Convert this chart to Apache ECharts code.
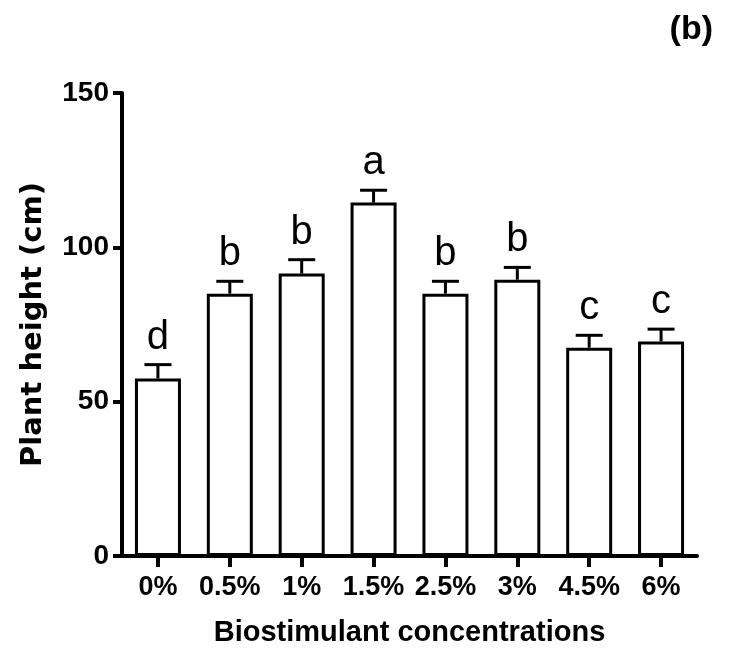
<!DOCTYPE html>
<html>
<head>
<meta charset="utf-8">
<script src="https://cdn.jsdelivr.net/npm/echarts@6/dist/echarts.min.js"></script>
<style>
html,body{margin:0;padding:0;background:#fff;}
#chart{width:730px;height:653px;}
</style>
</head>
<body>
<div id="chart"></div>
<script>
const categories = ['0%', '0.5%', '1%', '1.5%', '2.5%', '3%', '4.5%', '6%'];
const heights = [57.5, 85, 91.5, 114.5, 85, 89.5, 67.5, 69.5];
const errors = [4.5, 4, 4.5, 4, 4, 4, 4, 4];
const letters = ['d', 'b', 'b', 'a', 'b', 'b', 'c', 'c'];
const yTicks = [0, 50, 100, 150];

const FONT = '"Liberation Sans", Arial, sans-serif';
const chart = echarts.init(document.getElementById('chart'), null, {renderer: 'canvas'});

const errData = heights.map((h, i) => [i, h, errors[i], letters[i]]);

chart.setOption({
  animation: false,
  backgroundColor: '#ffffff',
  title: {
    text: '(b)',
    right: 12,
    top: 8,
    textStyle: {fontFamily: FONT, fontWeight: 'bold', fontSize: 34, color: '#000'}
  },
  grid: {left: 122, right: 33, top: 93, bottom: 97, containLabel: false},
  xAxis: {
    type: 'category',
    data: categories,
    boundaryGap: true,
    name: 'Biostimulant concentrations',
    nameLocation: 'middle',
    nameGap: 62,
    nameTextStyle: {fontFamily: FONT, fontWeight: 'bold', fontSize: 29, color: '#000'},
    axisLine: {show: true, onZero: false, lineStyle: {color: '#000', width: 4}},
    axisTick: {show: true, inside: false, alignWithLabel: true, interval: 0, length: 11, lineStyle: {color: '#000', width: 4}},
    axisLabel: {interval: 0, hideOverlap: false, fontFamily: FONT, fontWeight: 'bold', fontSize: 27, color: '#000', margin: 18}
  },
  yAxis: {
    type: 'value',
    min: yTicks[0],
    max: yTicks[yTicks.length - 1],
    interval: yTicks[1] - yTicks[0],
    name: 'Plant height (cm)',
    nameLocation: 'middle',
    nameRotate: 90,
    nameGap: 74,
    nameTextStyle: {fontFamily: '"DejaVu Sans", ' + FONT, fontWeight: 'bold', fontSize: 29, color: '#000'},
    axisLine: {show: true, lineStyle: {color: '#000', width: 4}},
    axisTick: {show: true, length: 9, lineStyle: {color: '#000', width: 4}},
    axisLabel: {fontFamily: FONT, fontWeight: 'bold', fontSize: 28, color: '#000', margin: 13},
    splitLine: {show: false}
  },
  series: [
    {
      type: 'bar',
      data: heights,
      barWidth: 46,
      itemStyle: {color: '#ffffff', borderColor: '#000', borderWidth: 3},
      z: 2
    },
    {
      type: 'custom',
      data: errData,
      z: 3,
      renderItem: function (params, api) {
        const idx = api.value(0);
        const h = api.value(1);
        const e = api.value(2);
        const letter = letters[params.dataIndex];
        const base = api.coord([idx, h]);
        const top = api.coord([idx, h + e]);
        const half = 13.5;
        return {
          type: 'group',
          children: [
            {type: 'line', shape: {x1: base[0], y1: base[1], x2: top[0], y2: top[1]},
             style: {stroke: '#000', lineWidth: 3}},
            {type: 'line', shape: {x1: top[0] - half, y1: top[1], x2: top[0] + half, y2: top[1]},
             style: {stroke: '#000', lineWidth: 3}},
            {type: 'text', style: {text: letter, x: top[0], y: top[1] - 7,
              align: 'center', verticalAlign: 'bottom',
              textAlign: 'center', textVerticalAlign: 'bottom',
              fill: '#000', font: 'normal 40px ' + FONT}}
          ]
        };
      }
    }
  ]
});
</script>
</body>
</html>
